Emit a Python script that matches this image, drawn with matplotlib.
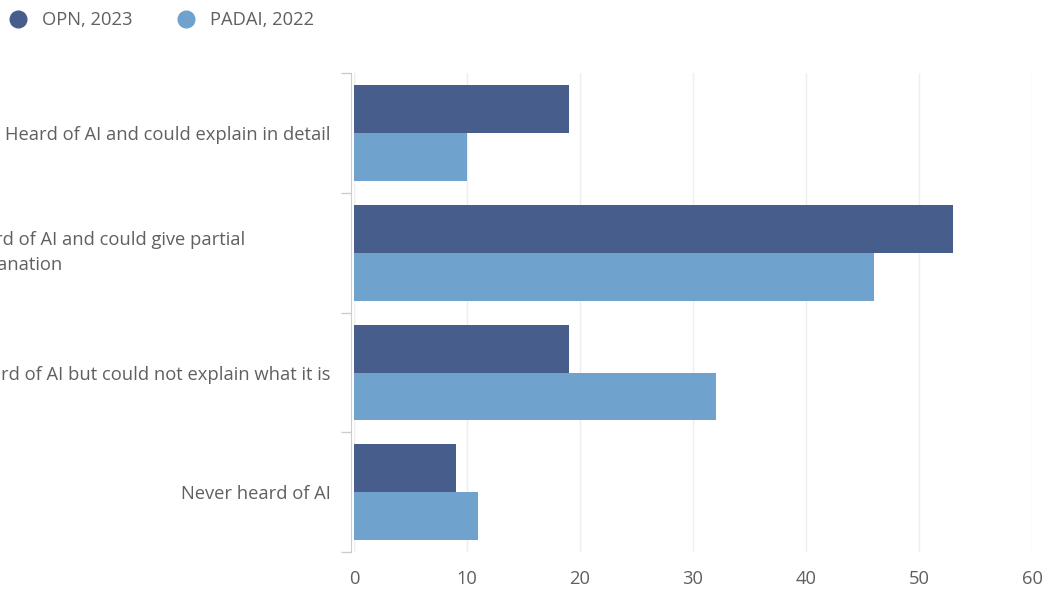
import matplotlib.pyplot as plt
from matplotlib.lines import Line2D
import numpy as np

plt.rcParams['font.family'] = ['Open Sans', 'DejaVu Sans']

categories = ['Heard of AI and could explain in detail',
              'Heard of AI and could give partial\nexplanation',
              'Heard of AI but could not explain what it is',
              'Never heard of AI']
opn_2023 = [19, 53, 19, 9]
padai_2022 = [10, 46, 32, 11]
series_names = ['OPN, 2023', 'PADAI, 2022']
xticks = [0, 10, 20, 30, 40, 50, 60]

dark = '#475e8c'
light = '#6fa2cc'
txt = '#606060'
fs = 13.2

fig = plt.figure(figsize=(10.52, 5.9), dpi=100)
ax = fig.add_axes([0.3365, 0.064, 0.981 - 0.3365, 0.876 - 0.064])

y = np.arange(len(categories))
ax.barh(y - 0.2, opn_2023, height=0.4, color=dark)
ax.barh(y + 0.2, padai_2022, height=0.4, color=light)

ax.set_xlim(0, 60)
ax.set_ylim(len(categories) - 0.5, -0.5)
ax.set_xticks(xticks)
ax.set_xticklabels([str(t) for t in xticks])
ax.grid(axis='x', color='#eeeeee', linewidth=1)
ax.set_axisbelow(True)

for s in ['top', 'right', 'bottom']:
    ax.spines[s].set_visible(False)
ax.spines['left'].set_color('#cccccc')
ax.spines['left'].set_position(('outward', 2))

ax.tick_params(axis='x', length=0, pad=13, labelsize=fs, labelcolor=txt)
ax.set_yticks(y)
labels = [c if '\n' not in c else '' for c in categories]
ax.set_yticklabels(labels)
ax.tick_params(axis='y', which='major', length=0, pad=15, labelsize=fs, labelcolor=txt)
ax.set_yticks(np.arange(len(categories) + 1) - 0.5, minor=True)
ax.tick_params(axis='y', which='minor', length=7, color='#cccccc', width=1)

# wrapped label is left-aligned in a fixed-width box (cut off by the figure edge)
for i, c in enumerate(categories):
    if '\n' in c:
        ax.annotate(c, xy=(0, i), xycoords=('axes fraction', 'data'),
                    xytext=(-283, 0), textcoords='offset points',
                    ha='left', va='center', fontsize=fs, color=txt,
                    linespacing=1.5)

handles = [Line2D([], [], marker='o', linestyle='none', markersize=12,
                  color=dark),
           Line2D([], [], marker='o', linestyle='none', markersize=12,
                  color=light)]
leg = fig.legend(handles, series_names, loc='upper left',
                 bbox_to_anchor=(-0.007, 1.009), ncol=2, frameon=False,
                 fontsize=fs, handletextpad=0.8, columnspacing=2.4,
                 handlelength=1.0)
for t in leg.get_texts():
    t.set_color(txt)

fig.savefig('out.png', dpi=100)
